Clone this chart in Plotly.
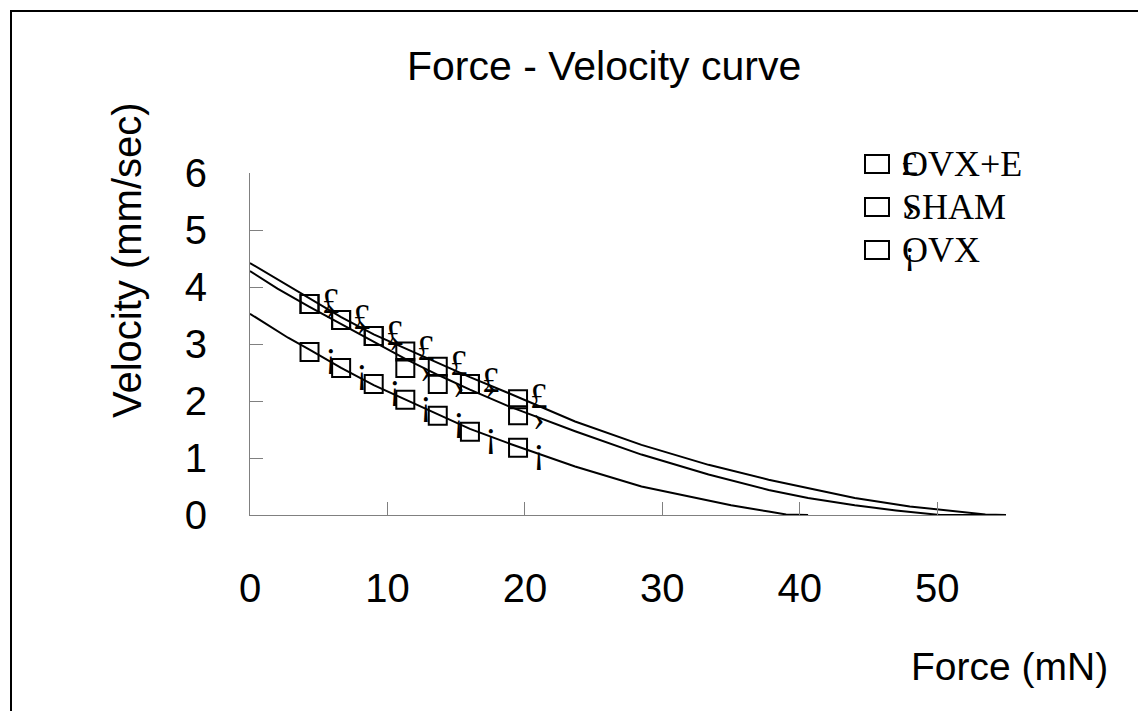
import plotly.graph_objects as go

# ---- data ----
force_pts = [4.33, 6.63, 9.0, 11.3, 13.66, 16.0, 19.5]
v_ovxe = [3.70, 3.42, 3.14, 2.87, 2.60, 2.30, 2.03]
v_sham = [3.70, 3.42, 3.14, 2.58, 2.30, 2.30, 1.75]
v_ovx = [2.86, 2.58, 2.30, 2.02, 1.74, 1.46, 1.18]

fit_force_ovxe = [0, 2, 4.33, 6.63, 9.0, 11.3, 13.66, 16.0, 18.79, 21.7, 23.65, 28.48, 33.36, 37.73, 44.0, 48.0, 51.0, 53.5, 55.0]
fit_v_ovxe = [4.42, 4.13, 3.79, 3.47, 3.17, 2.92, 2.67, 2.42, 2.14, 1.84, 1.64, 1.23, 0.88, 0.62, 0.30, 0.15, 0.07, 0.01, 0.0]

fit_force_sham = [0, 2, 4.33, 6.63, 9.0, 11.3, 13.66, 16.0, 18.79, 21.7, 23.65, 28.48, 33.36, 37.73, 40.6, 44.0, 47.0, 50.2, 55.0]
fit_v_sham = [4.28, 3.97, 3.65, 3.35, 3.04, 2.74, 2.46, 2.20, 1.91, 1.65, 1.47, 1.06, 0.71, 0.44, 0.30, 0.17, 0.08, 0.0, 0.0]

fit_force_ovx = [0, 2.77, 4.33, 6.63, 9.0, 11.3, 13.66, 16.0, 18.79, 21.7, 23.65, 28.48, 32.1, 35.0, 37.73, 39.0, 40.6]
fit_v_ovx = [3.53, 3.11, 2.90, 2.58, 2.28, 2.03, 1.77, 1.51, 1.26, 1.01, 0.85, 0.50, 0.31, 0.17, 0.06, 0.01, 0.0]

series_names = ["OVX+E", "SHAM", "OVX"]
series_chars = ["\u00a3", "\u203a", "\u00a1"]
x_ticks = [0, 10, 20, 30, 40, 50]
y_ticks = [0, 1, 2, 3, 4, 5, 6]

# ---- layout geometry (pixels) ----
W, H = 1146, 711
L, R, T, B = 242, 148, 165, 204
PW, PH = W - L - R, H - T - B


def px(x):
    return (x - L) / PW


def py(y):
    return (H - B - y) / PH


fig = go.Figure()

line_style = dict(color="black", width=2)
for fx, fv in [(fit_force_ovxe, fit_v_ovxe), (fit_force_sham, fit_v_sham), (fit_force_ovx, fit_v_ovx)]:
    fig.add_trace(go.Scatter(x=fx, y=fv, mode="lines", line=line_style,
                             showlegend=False, hoverinfo="skip"))

for vals in [v_ovxe, v_sham, v_ovx]:
    fig.add_trace(go.Scatter(
        x=force_pts, y=vals, mode="markers", showlegend=False,
        marker=dict(symbol="square-open", size=18, color="black", line=dict(width=2, color="black")),
    ))

annotations = []
char_yshift = [3, -3, -3]
for vals, ch, ys in zip([v_ovxe, v_sham, v_ovx], series_chars, char_yshift):
    for fx, fv in zip(force_pts, vals):
        annotations.append(dict(
            x=fx, y=fv, xref="x", yref="y", text=ch, showarrow=False,
            xshift=21, yshift=ys,
            font=dict(family="Liberation Serif", size=35, color="black"),
        ))

# title and axis titles
annotations.append(dict(x=px(596), y=py(58), xref="paper", yref="paper",
                        text="Force - Velocity curve", showarrow=False,
                        xanchor="center", yanchor="middle",
                        font=dict(family="Liberation Sans", size=41, color="black")))
annotations.append(dict(x=px(119), y=py(252), xref="paper", yref="paper",
                        text="Velocity (mm/sec)", showarrow=False, textangle=-90,
                        xanchor="center", yanchor="middle",
                        font=dict(family="Liberation Sans", size=40, color="black")))
annotations.append(dict(x=px(1001), y=py(658), xref="paper", yref="paper",
                        text="Force (mN)", showarrow=False,
                        xanchor="center", yanchor="middle",
                        font=dict(family="Liberation Sans", size=39, color="black")))

shapes = [dict(type="rect", xref="paper", yref="paper",
               x0=px(3), x1=px(1138), y0=py(716), y1=py(3),
               line=dict(color="black", width=2), fillcolor="rgba(0,0,0,0)")]

# legend (drawn manually, as in the reference)
row_y = [156, 199, 242]
legend_char_dy = [0, 0, 2]
for name, ch, ry, dy in zip(series_names, series_chars, row_y, legend_char_dy):
    shapes.append(dict(type="rect", xref="paper", yref="paper",
                       x0=px(857), x1=px(881), y0=py(ry + 9), y1=py(ry - 9),
                       line=dict(color="black", width=2), fillcolor="white"))
    annotations.append(dict(x=px(892), y=py(ry), xref="paper", yref="paper",
                            text=name, showarrow=False, xanchor="left", yanchor="middle",
                            font=dict(family="Liberation Serif", size=36, color="black")))
    annotations.append(dict(x=px(901), y=py(ry + dy), xref="paper", yref="paper",
                            text=ch, showarrow=False, xanchor="center", yanchor="middle",
                            font=dict(family="Liberation Serif", size=34, color="black")))

axis_common = dict(
    showgrid=False, zeroline=False, showline=True, linecolor="#808080", linewidth=1,
    ticks="inside", ticklen=13, tickcolor="#808080", tickwidth=1,
    tickfont=dict(family="Liberation Sans", size=40, color="black"),
)

fig.update_layout(
    width=W, height=H,
    margin=dict(l=L, r=R, t=T, b=B, pad=0),
    paper_bgcolor="white", plot_bgcolor="white",
    showlegend=False,
    xaxis=dict(range=[0, 55], tickvals=x_ticks, ticktext=[str(v) for v in x_ticks],
               ticklabelstandoff=38, **axis_common),
    yaxis=dict(range=[0, 6], tickvals=y_ticks, ticktext=[str(v) for v in y_ticks],
               ticklabelstandoff=34, **axis_common),
    annotations=annotations,
    shapes=shapes,
)

fig.write_html("out.html")
